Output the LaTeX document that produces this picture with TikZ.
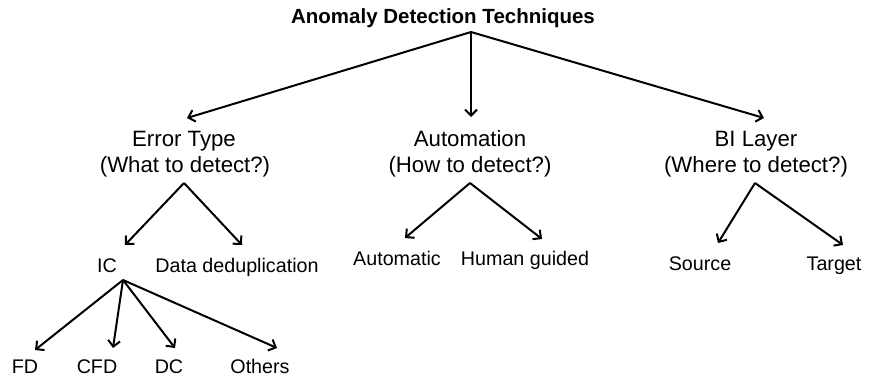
\documentclass[tikz,border=0pt]{standalone}
\usepackage{fontspec}
\setmainfont{Liberation Sans}
\usetikzlibrary{arrows.meta}
\begin{document}
\begin{tikzpicture}[x=1pt,y=-1pt,
  cat/.style={font=\fontsize{22.2}{26}\selectfont, inner sep=0pt, anchor=base},
  lbl/.style={font=\fontsize{19.7}{24}\selectfont, inner sep=0pt, anchor=base},
  ttl/.style={font=\bfseries\fontsize{20.5}{24}\selectfont, inner sep=0pt, anchor=base},
  arr/.style={line width=2pt, -{Straight Barb[length=6pt,width=12pt,line width=2pt]}}]
\useasboundingbox (0,0) rectangle (870,378);

% labels
\node[ttl] (root) at (443,23) {Anomaly Detection Techniques};
\node[cat] (err1) at (184,146) {Error Type};
\node[cat] (err2) at (185,172) {(What to detect?)};
\node[cat] (aut1) at (470,146) {Automation};
\node[cat] (aut2) at (470,172) {(How to detect?)};
\node[cat] (bi1) at (756,146) {BI Layer};
\node[cat] (bi2) at (756,172) {(Where to detect?)};
\node[lbl] (ic) at (107,272) {IC};
\node[lbl] (dd) at (237,272) {Data deduplication};
\node[lbl] (am) at (397,265) {Automatic};
\node[lbl] (hg) at (525,265) {Human guided};
\node[lbl] (src) at (700,270) {Source};
\node[lbl] (tgt) at (834,270) {Target};
\node[lbl] (fd) at (25,373) {FD};
\node[lbl] (cfd) at (97,373) {CFD};
\node[lbl] (dc) at (169,373) {DC};
\node[lbl] (oth) at (260,373) {Others};

% connector end points
\coordinate (root-out) at (471,32);
\coordinate (err-in) at (187,118);
\coordinate (aut-in) at (471,117);
\coordinate (bi-in) at (764,118);
\coordinate (err-out) at (184,183);
\coordinate (ic-in) at (125,245);
\coordinate (dd-in) at (242,245);
\coordinate (aut-out) at (470,183);
\coordinate (am-in) at (405,238);
\coordinate (hg-in) at (542,239);
\coordinate (bi-out) at (755,183);
\coordinate (src-in) at (718,243);
\coordinate (tgt-in) at (843,245);
\coordinate (ic-out) at (123,280);
\coordinate (fd-in) at (35,350);
\coordinate (cfd-in) at (113,348);
\coordinate (dc-in) at (175,348);
\coordinate (oth-in) at (277,348);

% connectors
\draw[arr] (root-out) -- (err-in);
\draw[arr] (root-out) -- (aut-in);
\draw[arr] (root-out) -- (bi-in);
\draw[arr] (err-out) -- (ic-in);
\draw[arr] (err-out) -- (dd-in);
\draw[arr] (aut-out) -- (am-in);
\draw[arr] (aut-out) -- (hg-in);
\draw[arr] (bi-out) -- (src-in);
\draw[arr] (bi-out) -- (tgt-in);
\draw[arr] (ic-out) -- (fd-in);
\draw[arr] (ic-out) -- (cfd-in);
\draw[arr] (ic-out) -- (dc-in);
\draw[arr] (ic-out) -- (oth-in);
\end{tikzpicture}
\end{document}
